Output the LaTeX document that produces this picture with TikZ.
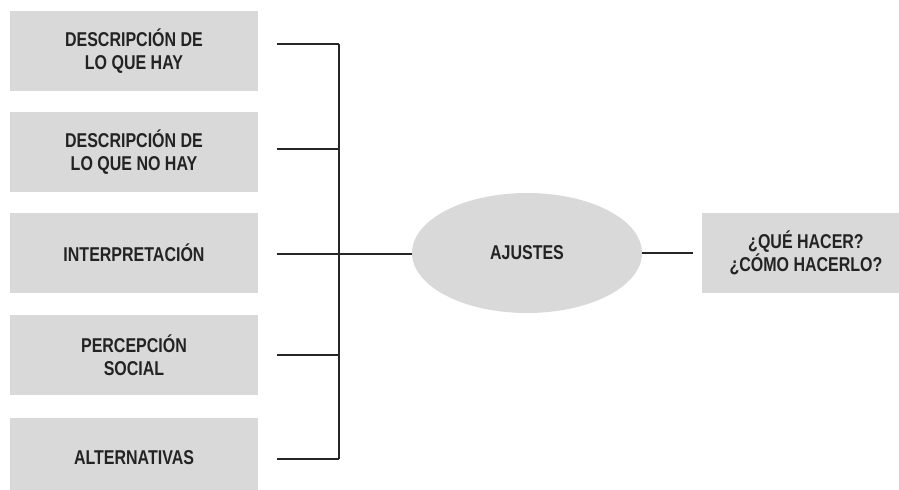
\documentclass[tikz,border=0pt]{standalone}
\usepackage{fontspec}
\setmainfont{Liberation Sans}[FakeStretch=0.8]
\usepackage{tikz}
\usetikzlibrary{shapes.geometric, positioning, calc}
\definecolor{boxgray}{RGB}{217, 217, 217}
\definecolor{txtgray}{RGB}{35, 35, 35}

\begin{document}
\begin{tikzpicture}[
  x=0.5pt, y=-0.5pt,
  gbox/.style={fill=boxgray, minimum width=124pt, minimum height=40pt, align=center, inner sep=0pt, font=\bfseries\fontsize{10}{11.5}\selectfont, text=txtgray},
  gell/.style={ellipse, fill=boxgray, minimum width=115pt, minimum height=60pt, inner sep=0pt, font=\bfseries\fontsize{10}{11.5}\selectfont, text=txtgray},
  link/.style={line width=0.8pt, black!85}
]
  \useasboundingbox (0,0) rectangle (899,489);
  \clip (0,0) rectangle (899,489);
  % left column
  \node[gbox] (desc) at (134, 51) {DESCRIPCIÓN DE\\LO QUE HAY};
  \node[gbox] (nodesc) at (134, 152) {DESCRIPCIÓN DE\\LO QUE NO HAY};
  \node[gbox] (interp) at (134, 253) {INTERPRETACIÓN};
  \node[gbox] (percep) at (134, 355) {PERCEPCIÓN\\SOCIAL};
  \node[gbox] (altern) at (134, 458) {ALTERNATIVAS};
  % centre and right
  \node[gell] (ajustes) at (527, 253) {AJUSTES};
  \node[gbox, minimum width=104pt] (hacer) at (806, 253) {¿QUÉ HACER?\\¿CÓMO HACERLO?};
  % bracket
  \coordinate (j1) at (339, 44);
  \coordinate (j2) at (339, 149);
  \coordinate (j3) at (339, 254);
  \coordinate (j4) at (339, 355);
  \coordinate (j5) at (339, 459);
  \foreach \b/\j in {desc/j1, nodesc/j2, interp/j3, percep/j4, altern/j5}
    \draw[link] ([xshift=9.5pt]\b.east |- \j) -- (\j);
  \draw[link] (j1) -- (j5);
  \draw[link] (j3) -- (j3 -| ajustes.west);
  \draw[link, shorten >=4.5pt] (ajustes.east) -- (hacer.west);
\end{tikzpicture}
\end{document}
